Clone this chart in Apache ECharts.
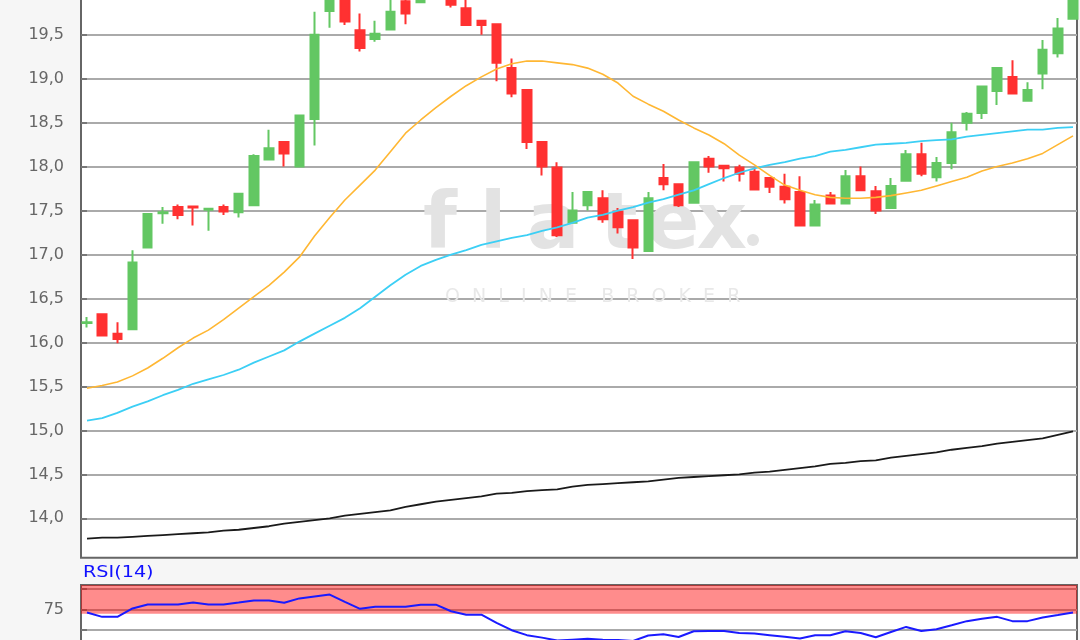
<!DOCTYPE html>
<html><head><meta charset="utf-8">
<script src="https://cdn.jsdelivr.net/npm/echarts@6/dist/echarts.min.js"></script>
<style>html,body{margin:0;padding:0;background:#f6f6f6;}#c{width:1080px;height:640px;}</style>
</head><body><div id="c"></div>
<script>
const categories = ['1','2','3','4','5','6','7','8','9','10','11','12','13','14','15','16','17','18','19','20','21','22','23','24','25','26','27','28','29','30','31','32','33','34','35','36','37','38','39','40','41','42','43','44','45','46','47','48','49','50','51','52','53','54','55','56','57','58','59','60','61','62','63','64','65','66'];
const openVals = [16.22,16.32,16.10,16.15,17.08,17.47,17.54,17.545,17.51,17.54,17.48,17.56,18.08,18.28,18.00,18.54,19.77,20.02,19.55,19.45,19.56,19.88,19.87,20.00,20.06,19.80,19.66,19.62,19.12,18.87,18.28,17.99,17.36,17.56,17.64,17.49,17.39,17.04,17.87,17.80,17.59,18.09,18.01,17.99,17.94,17.87,17.77,17.71,17.33,17.67,17.58,17.89,17.72,17.53,17.84,18.14,17.88,18.04,18.50,18.61,18.86,19.02,18.75,19.06,19.29,19.68];
const closeVals = [16.23,16.08,16.04,16.91,17.46,17.48,17.45,17.535,17.52,17.49,17.69,18.12,18.21,18.15,18.58,19.50,20.05,19.65,19.35,19.51,19.76,19.74,20.00,20.12,19.84,19.61,19.61,19.18,18.83,18.28,18.00,17.22,17.50,17.71,17.40,17.31,17.08,17.64,17.80,17.56,18.05,18.00,17.98,17.92,17.74,17.77,17.63,17.33,17.57,17.58,17.89,17.73,17.50,17.78,18.14,17.92,18.04,18.39,18.60,18.91,19.12,18.83,18.87,19.33,19.57,20.02];
const lowVals = [16.17,16.08,15.99,16.15,17.08,17.35,17.40,17.33,17.27,17.45,17.42,17.56,18.08,18.00,18.00,18.24,19.58,19.61,19.31,19.42,19.56,19.62,19.87,19.93,19.81,19.61,19.50,18.97,18.79,18.20,17.90,17.20,17.36,17.50,17.36,17.24,16.95,17.04,17.73,17.54,17.59,17.93,17.83,17.83,17.74,17.70,17.58,17.33,17.33,17.58,17.58,17.72,17.46,17.53,17.84,17.89,17.83,17.97,18.41,18.54,18.70,18.83,18.75,18.88,19.24,19.68];
const highVals = [16.29,16.33,16.23,17.05,17.46,17.54,17.57,17.55,17.52,17.57,17.69,18.14,18.42,18.28,18.58,19.76,20.10,20.08,19.74,19.66,19.95,19.96,20.05,20.18,20.10,19.92,19.66,19.62,19.23,18.87,18.28,18.05,17.71,17.71,17.73,17.53,17.39,17.71,18.03,17.80,18.05,18.12,18.01,18.02,17.99,17.87,17.92,17.89,17.62,17.71,17.96,18.00,17.78,17.87,18.19,18.27,18.11,18.50,18.62,18.91,19.12,19.21,18.96,19.44,19.69,20.08];
const maShort = [15.48,15.51,15.55,15.62,15.71,15.82,15.94,16.05,16.14,16.26,16.39,16.52,16.65,16.80,16.97,17.21,17.42,17.62,17.79,17.96,18.17,18.38,18.53,18.67,18.80,18.92,19.02,19.11,19.17,19.20,19.20,19.18,19.16,19.12,19.05,18.95,18.80,18.71,18.63,18.53,18.44,18.36,18.26,18.13,18.02,17.90,17.79,17.73,17.68,17.65,17.64,17.64,17.65,17.67,17.70,17.73,17.78,17.83,17.88,17.95,18.00,18.04,18.09,18.15,18.25,18.35];
const maMid = [15.11,15.14,15.20,15.27,15.33,15.40,15.46,15.53,15.58,15.63,15.69,15.77,15.84,15.91,16.01,16.10,16.19,16.28,16.39,16.52,16.65,16.77,16.87,16.94,17.00,17.05,17.11,17.15,17.19,17.22,17.27,17.31,17.36,17.42,17.45,17.50,17.54,17.59,17.63,17.68,17.73,17.80,17.87,17.93,17.98,18.02,18.05,18.09,18.12,18.17,18.19,18.22,18.25,18.26,18.27,18.29,18.30,18.31,18.34,18.36,18.38,18.40,18.42,18.42,18.44,18.45];
const maLong = [13.77,13.78,13.78,13.79,13.80,13.81,13.82,13.83,13.84,13.86,13.87,13.89,13.91,13.94,13.96,13.98,14.00,14.03,14.05,14.07,14.09,14.13,14.16,14.19,14.21,14.23,14.25,14.28,14.29,14.31,14.32,14.33,14.36,14.38,14.39,14.40,14.41,14.42,14.44,14.46,14.47,14.48,14.49,14.50,14.52,14.53,14.55,14.57,14.59,14.62,14.63,14.65,14.66,14.69,14.71,14.73,14.75,14.78,14.80,14.82,14.85,14.87,14.89,14.91,14.95,14.99];
const rsiVals = [71.5,66.2,66.2,76.4,81.3,81.3,81.3,83.5,81.3,81.3,83.5,86.0,86.0,83.3,88.6,91.0,93.3,84.5,76.0,78.4,78.4,78.4,81.0,81.0,73.0,68.8,68.8,59.0,50.0,44.0,41.0,37.5,38.5,39.5,38.5,38.0,37.0,43.5,45.1,41.8,48.8,49.1,49.1,46.5,46.0,44.0,42.0,39.9,43.9,43.9,48.8,46.7,41.5,47.9,54.0,49.1,51.2,56.0,61.0,64.0,66.2,61.0,61.0,65.5,68.5,71.6];
const priceTicks = [14.0,14.5,15.0,15.5,16.0,16.5,17.0,17.5,18.0,18.5,19.0,19.5,20.0];
const rsiTicks = [25,50,75,100];
const rsiLabelTicks = [75];

const chart = echarts.init(document.getElementById('c'), null, {renderer:'canvas'});
const candleData = categories.map((c, i) => [i, openVals[i], closeVals[i], lowVals[i], highVals[i]]);
const pts = arr => categories.map((c, i) => [i, arr[i]]);
const GREEN = '#63c763', RED = '#ff3131';
const fmt = v => v.toFixed(1).replace('.', ',');
const xCommon = {type:'value', min:-0.3955, max:65.264, show:false};
const WM = '#e3e3e3';
const wmLetter = (ch, x) => ({type:'text', x:x, y:228, z:1, silent:true, style:{text:ch, fontSize:78, fontWeight:'bold', fontFamily:'DejaVu Sans', fill:WM, align:'center', verticalAlign:'middle'}});

chart.setOption({
  backgroundColor: '#f6f6f6',
  animation: false,
  grid: [
    {left:81, right:3, top:-9.27, height:566.9, show:true, outerBoundsMode:'none', containLabel:false, backgroundColor:'#ffffff', borderColor:'#666666', borderWidth:2},
    {left:81, right:3, top:584.9, height:86.5, show:true, outerBoundsMode:'none', containLabel:false, backgroundColor:'#ffffff', borderColor:'#666666', borderWidth:2}
  ],
  xAxis: [
    Object.assign({gridIndex:0}, xCommon),
    Object.assign({gridIndex:1}, xCommon)
  ],
  yAxis: [
    {gridIndex:0, type:'value', min:13.553, max:20.0,
     axisLine:{show:false},
     axisTick:{show:true, length:6, customValues:priceTicks, lineStyle:{color:'#666', width:1.5}},
     axisLabel:{customValues:priceTicks, formatter:fmt, color:'#666', fontSize:16, fontFamily:'DejaVu Sans', margin:17},
     splitLine:{show:true, lineStyle:{color:'#aaaaaa', width:2}}},
    {gridIndex:1, type:'value', min:0, max:105,
     axisLine:{show:false},
     axisTick:{show:true, length:6, customValues:rsiTicks, lineStyle:{color:'#666', width:1.5}},
     axisLabel:{customValues:rsiLabelTicks, color:'#666', fontSize:16, fontFamily:'DejaVu Sans', margin:17},
     splitLine:{show:true, lineStyle:{color:'#aaaaaa', width:2}}}
  ],
  graphic: [
    wmLetter('f', 440), wmLetter('l', 493), wmLetter('a', 553), wmLetter('t', 619), wmLetter('e', 673), wmLetter('x', 722),
    {type:'circle', z:1, silent:true, shape:{cx:753, cy:240, r:6}, style:{fill:WM}},
    {type:'text', x:445, y:297, z:1, silent:true, style:{text:'O  N  L  I  N  E    B  R  O  K  E  R', fontSize:19, fontFamily:'DejaVu Sans', fill:'#e8e8e8', align:'left', verticalAlign:'middle'}},
    {type:'text', x:83, y:573, z:5, silent:true, scaleX:1.2, style:{text:'RSI(14)', fontSize:16, fontFamily:'DejaVu Sans', fill:'#1010ff', align:'left', verticalAlign:'middle'}}
  ],
  series: [
    {type:'candlestick', xAxisIndex:0, yAxisIndex:0, data:candleData, encode:{x:0, y:[1,2,3,4]},
     barWidth:9, clip:true,
     itemStyle:{color:GREEN, color0:RED, borderColor:GREEN, borderColor0:RED, borderColorDoji:GREEN, borderWidth:2}},
    {type:'line', xAxisIndex:0, yAxisIndex:0, data:pts(maLong), showSymbol:false, lineStyle:{color:'#1a1a1a', width:1.8}, z:3},
    {type:'line', xAxisIndex:0, yAxisIndex:0, data:pts(maMid), showSymbol:false, lineStyle:{color:'#3ccff5', width:1.8}, z:3},
    {type:'line', xAxisIndex:0, yAxisIndex:0, data:pts(maShort), showSymbol:false, lineStyle:{color:'#ffb733', width:1.6}, z:3},
    {type:'line', xAxisIndex:1, yAxisIndex:1, data:pts(rsiVals), showSymbol:false, lineStyle:{color:'#1a1aff', width:2}, z:3,
     markArea:{silent:true, itemStyle:{color:'rgba(255,0,0,0.45)'}, data:[[{yAxis:70},{yAxis:105}]]}}
  ]
});
</script></body></html>
